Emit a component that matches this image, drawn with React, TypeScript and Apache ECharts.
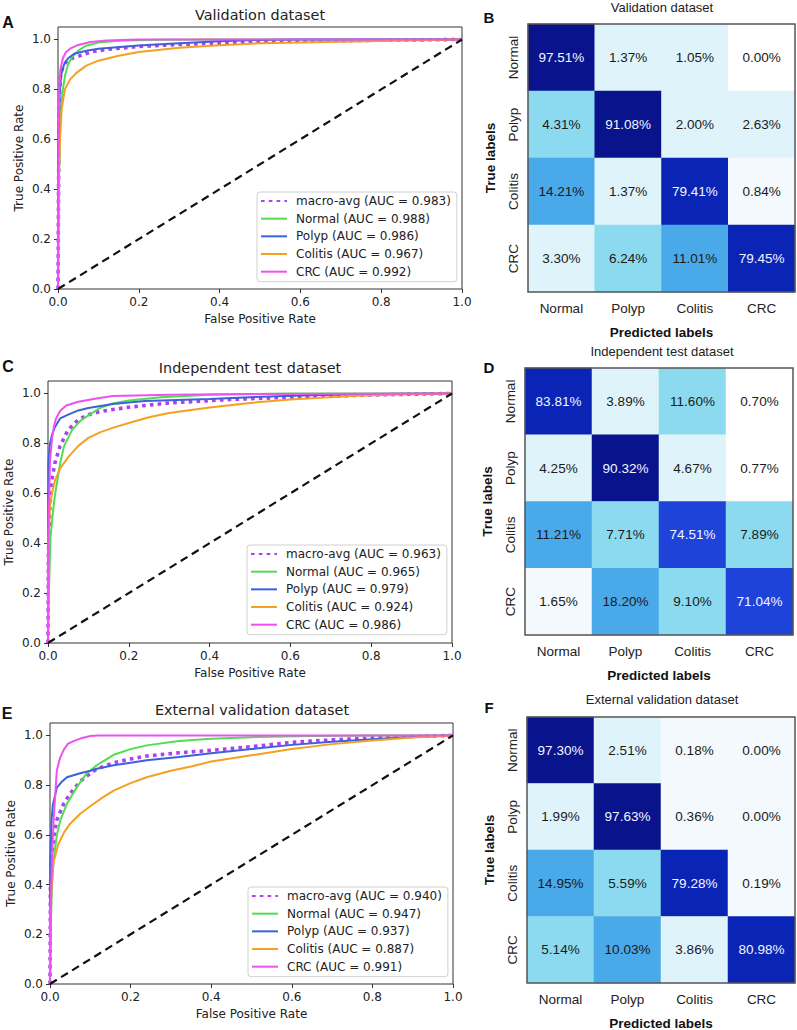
import React, { useEffect, useRef } from 'react';
import * as echarts from 'echarts';

// ---------- ROC data ----------
const rocCategories = ['macro-avg', 'Normal', 'Polyp', 'Colitis', 'CRC'];
const aucValidation = [0.983, 0.988, 0.986, 0.967, 0.992];
const aucTest = [0.963, 0.965, 0.979, 0.924, 0.986];
const aucExternal = [0.94, 0.947, 0.937, 0.887, 0.991];
const diagonal = [[0, 0], [1, 1]];

const valMacro = [[0, 0], [0.001, 0.3], [0.003, 0.75], [0.006, 0.85], [0.012, 0.89], [0.02, 0.91], [0.035, 0.925], [0.05, 0.932], [0.08, 0.95], [0.12, 0.96], [0.2, 0.972], [0.3, 0.98], [0.45, 0.988], [0.6, 0.993], [0.8, 0.997], [1, 1]];
const valNormal = [[0, 0], [0.002, 0.4], [0.006, 0.7], [0.012, 0.8], [0.018, 0.86], [0.025, 0.9], [0.035, 0.93], [0.05, 0.955], [0.07, 0.975], [0.1, 0.988], [0.15, 0.995], [0.25, 0.999], [0.4, 1], [1, 1]];
const valPolyp = [[0, 0], [0.001, 0.55], [0.004, 0.78], [0.008, 0.86], [0.015, 0.9], [0.025, 0.925], [0.04, 0.943], [0.07, 0.955], [0.1, 0.963], [0.2, 0.976], [0.3, 0.985], [0.4, 0.993], [0.5, 0.998], [0.6, 1], [1, 1]];
const valColitis = [[0, 0], [0.002, 0.45], [0.005, 0.6], [0.009, 0.72], [0.017, 0.8], [0.03, 0.84], [0.045, 0.865], [0.07, 0.895], [0.1, 0.915], [0.15, 0.935], [0.2, 0.95], [0.3, 0.967], [0.4, 0.977], [0.5, 0.985], [0.6, 0.988], [0.8, 0.994], [1, 1]];
const valCRC = [[0, 0], [0.001, 0.5], [0.003, 0.8], [0.006, 0.88], [0.012, 0.925], [0.02, 0.95], [0.03, 0.963], [0.05, 0.978], [0.08, 0.99], [0.12, 0.996], [0.2, 1], [1, 1]];

const testMacro = [[0, 0], [0.001, 0.35], [0.004, 0.52], [0.008, 0.64], [0.017, 0.72], [0.03, 0.79], [0.05, 0.855], [0.075, 0.895], [0.1, 0.915], [0.13, 0.928], [0.2, 0.945], [0.3, 0.962], [0.45, 0.976], [0.6, 0.985], [0.8, 0.994], [1, 1]];
const testNormal = [[0, 0], [0.002, 0.2], [0.006, 0.42], [0.012, 0.52], [0.017, 0.59], [0.03, 0.72], [0.04, 0.79], [0.06, 0.855], [0.08, 0.89], [0.1, 0.912], [0.13, 0.943], [0.16, 0.96], [0.2, 0.972], [0.28, 0.985], [0.4, 0.995], [0.6, 1], [1, 1]];
const testPolyp = [[0, 0], [0.001, 0.72], [0.005, 0.8], [0.01, 0.835], [0.017, 0.865], [0.03, 0.9], [0.05, 0.915], [0.075, 0.932], [0.1, 0.942], [0.16, 0.958], [0.24, 0.97], [0.4, 0.978], [0.5, 0.985], [0.65, 0.993], [0.8, 0.998], [1, 1]];
const testColitis = [[0, 0], [0.001, 0.4], [0.005, 0.55], [0.01, 0.6], [0.017, 0.65], [0.03, 0.7], [0.05, 0.745], [0.075, 0.79], [0.1, 0.822], [0.13, 0.845], [0.16, 0.862], [0.2, 0.882], [0.25, 0.905], [0.3, 0.922], [0.4, 0.944], [0.5, 0.962], [0.6, 0.976], [0.75, 0.99], [0.9, 0.997], [1, 1]];
const testCRC = [[0, 0], [0.001, 0.45], [0.005, 0.73], [0.01, 0.82], [0.015, 0.87], [0.02, 0.9], [0.03, 0.93], [0.045, 0.952], [0.075, 0.967], [0.12, 0.98], [0.16, 0.99], [0.3, 0.995], [0.5, 0.998], [1, 1]];

const extMacro = [[0, 0], [0.001, 0.38], [0.003, 0.47], [0.009, 0.59], [0.017, 0.66], [0.034, 0.725], [0.05, 0.766], [0.075, 0.815], [0.1, 0.848], [0.116, 0.865], [0.158, 0.89], [0.2, 0.905], [0.24, 0.917], [0.32, 0.93], [0.4, 0.94], [0.5, 0.955], [0.6, 0.972], [0.7, 0.982], [0.8, 0.99], [0.9, 0.996], [1, 1]];
const extNormal = [[0, 0], [0.002, 0.25], [0.005, 0.4], [0.009, 0.5], [0.017, 0.6], [0.026, 0.66], [0.042, 0.725], [0.067, 0.793], [0.09, 0.845], [0.116, 0.88], [0.158, 0.922], [0.2, 0.945], [0.24, 0.96], [0.32, 0.978], [0.4, 0.987], [0.5, 0.993], [0.65, 0.998], [0.8, 1], [1, 1]];
const extPolyp = [[0, 0], [0.001, 0.5], [0.004, 0.66], [0.007, 0.72], [0.017, 0.79], [0.03, 0.815], [0.042, 0.832], [0.075, 0.848], [0.1, 0.858], [0.116, 0.866], [0.158, 0.88], [0.2, 0.89], [0.24, 0.9], [0.32, 0.913], [0.4, 0.928], [0.5, 0.945], [0.6, 0.962], [0.7, 0.975], [0.8, 0.985], [0.9, 0.994], [1, 1]];
const extColitis = [[0, 0], [0.001, 0.3], [0.004, 0.4], [0.009, 0.49], [0.02, 0.56], [0.035, 0.61], [0.05, 0.645], [0.075, 0.685], [0.1, 0.715], [0.13, 0.75], [0.158, 0.778], [0.2, 0.808], [0.24, 0.832], [0.3, 0.858], [0.35, 0.875], [0.4, 0.895], [0.5, 0.92], [0.6, 0.945], [0.7, 0.965], [0.8, 0.98], [0.9, 0.992], [1, 1]];
const extCRC = [[0, 0], [0.002, 0.3], [0.005, 0.5], [0.009, 0.66], [0.017, 0.86], [0.025, 0.91], [0.035, 0.945], [0.045, 0.967], [0.06, 0.978], [0.08, 0.99], [0.1, 0.998], [0.12, 1], [1, 1]];

const rocTicks = [0, 0.2, 0.4, 0.6, 0.8, 1.0];

// ---------- Confusion matrices ----------
const cmLabels = ['Normal', 'Polyp', 'Colitis', 'CRC'];
const cmValidation = [
  [97.51, 1.37, 1.05, 0.0],
  [4.31, 91.08, 2.0, 2.63],
  [14.21, 1.37, 79.41, 0.84],
  [3.3, 6.24, 11.01, 79.45],
];
const cmTest = [
  [83.81, 3.89, 11.6, 0.7],
  [4.25, 90.32, 4.67, 0.77],
  [11.21, 7.71, 74.51, 7.89],
  [1.65, 18.2, 9.1, 71.04],
];
const cmExternal = [
  [97.3, 2.51, 0.18, 0.0],
  [1.99, 97.63, 0.36, 0.0],
  [14.95, 5.59, 79.28, 0.19],
  [5.14, 10.03, 3.86, 80.98],
];
// observed shade level of each cell (0 = white ... 7 = navy)
const shadeValidation = [
  [7, 2, 2, 0],
  [3, 7, 2, 2],
  [4, 2, 6, 1],
  [2, 3, 4, 6],
];
const shadeTest = [
  [6, 2, 3, 0],
  [2, 7, 2, 0],
  [4, 3, 5, 3],
  [1, 4, 3, 5],
];
const shadeExternal = [
  [7, 2, 1, 1],
  [2, 7, 1, 1],
  [4, 3, 6, 1],
  [3, 4, 2, 6],
];

// ---------- styling ----------
const curveColors = ['#b03ef2', '#52dc52', '#3a62dc', '#f4a020', '#f050ef'];
const shadeColors = ['#ffffff', '#f3f9fd', '#dff3fb', '#8bdaef', '#4aa9e9', '#1d43d9', '#0a25b5', '#08138c'];
const ROC_FONT = 'DejaVu Sans';
const CM_FONT = 'Liberation Sans, Arial, sans-serif';

const rocPanels = [
  { letter: 'A', title: 'Validation dataset', curves: [valMacro, valNormal, valPolyp, valColitis, valCRC], auc: aucValidation,
    grid: { left: 58, top: 27, width: 404, height: 262 }, legend: { left: 257, top: 192 }, titlePos: [260, 15], letterPos: [8, 22] },
  { letter: 'C', title: 'Independent test dataset', curves: [testMacro, testNormal, testPolyp, testColitis, testCRC], auc: aucTest,
    grid: { left: 48, top: 381, width: 404, height: 262 }, legend: { left: 247, top: 545 }, titlePos: [250, 368], letterPos: [8, 366] },
  { letter: 'E', title: 'External validation dataset', curves: [extMacro, extNormal, extPolyp, extColitis, extCRC], auc: aucExternal,
    grid: { left: 50, top: 723, width: 403, height: 261 }, legend: { left: 248, top: 887 }, titlePos: [252, 710], letterPos: [7, 713] },
];

const cmPanels = [
  { letter: 'B', title: 'Validation dataset', values: cmValidation, shades: shadeValidation,
    grid: { left: 528, top: 24, width: 267, height: 268 }, titlePos: [662, 7], letterPos: [489, 17] },
  { letter: 'D', title: 'Independent test dataset', values: cmTest, shades: shadeTest,
    grid: { left: 525, top: 368, width: 268, height: 267 }, titlePos: [662, 351], letterPos: [489, 367] },
  { letter: 'F', title: 'External validation dataset', values: cmExternal, shades: shadeExternal,
    grid: { left: 527, top: 717, width: 268, height: 266 }, titlePos: [662, 699], letterPos: [489, 707] },
];

function buildOption() {
  const grid: any[] = [];
  const xAxis: any[] = [];
  const yAxis: any[] = [];
  const series: any[] = [];
  const legend: any[] = [];
  const visualMap: any[] = [];
  const graphic: any[] = [];

  rocPanels.forEach((p, i) => {
    grid.push({ ...p.grid, show: true, borderColor: '#333', borderWidth: 1, backgroundColor: '#fff', outerBoundsMode: 'none', containLabel: false });
    const tickCommon = {
      axisLine: { show: false },
      axisTick: { show: true, length: 4, lineStyle: { color: '#333', width: 1 } },
      splitLine: { show: false },
      axisLabel: { fontFamily: ROC_FONT, fontSize: 12, color: '#222', margin: 7, formatter: (v: number) => v.toFixed(1) },
      nameLocation: 'middle',
      nameMoveOverlap: false,
      nameTextStyle: { fontFamily: ROC_FONT, fontSize: 12, color: '#222' },
    };
    xAxis.push({ ...tickCommon, type: 'value', gridIndex: i, min: 0, max: 1, interval: 0.2, name: 'False Positive Rate', nameGap: 24 });
    yAxis.push({ ...tickCommon, type: 'value', gridIndex: i, min: 0, max: 1.05, interval: 0.2, name: 'True Positive Rate', nameGap: 33,
      axisLabel: { ...tickCommon.axisLabel, showMaxLabel: false, formatter: (v: number) => (rocTicks.some(t => Math.abs(t - v) < 1e-6) ? v.toFixed(1) : '') } });
    const names: string[] = [];
    p.curves.forEach((data, k) => {
      const name = `${rocCategories[k]} (AUC = ${p.auc[k].toFixed(3)})`;
      names.push(name);
      series.push({
        type: 'line', name, xAxisIndex: i, yAxisIndex: i, data, symbol: 'none', showSymbol: false, smooth: false,
        lineStyle: k === 0
          ? { color: curveColors[k], width: 3.6, type: [3.6, 4.2], cap: 'butt' }
          : { color: curveColors[k], width: 2 },
        itemStyle: { color: curveColors[k] },
        z: k === 0 ? 2 : 3,
        emphasis: { disabled: true },
      });
    });
    series.push({
      type: 'line', name: 'chance-' + i, xAxisIndex: i, yAxisIndex: i, data: diagonal, symbol: 'none',
      lineStyle: { color: '#111', width: 2.2, type: [8, 5] }, z: 4, emphasis: { disabled: true },
    });
    legend.push({
      data: names, orient: 'vertical', left: p.legend.left, top: p.legend.top,
      itemWidth: 26, itemHeight: 14, itemGap: 3.67, padding: [2, 6, 3, 3],
      itemStyle: { opacity: 0 },
      backgroundColor: 'rgba(255,255,255,0.85)', borderColor: '#d0d0d0', borderWidth: 1, borderRadius: 3,
      textStyle: { fontFamily: ROC_FONT, fontSize: 12, color: '#222', lineHeight: 14, padding: [0, 0, 0, 4] },
      selectedMode: false, z: 10,
    });
    graphic.push({ type: 'text', x: p.titlePos[0], y: p.titlePos[1], style: { text: p.title, font: `14.4px ${ROC_FONT}`, fill: '#222', textAlign: 'center', textVerticalAlign: 'middle' } });
    graphic.push({ type: 'text', x: p.letterPos[0], y: p.letterPos[1], style: { text: p.letter, font: `bold 16px ${CM_FONT}`, fill: '#111', textAlign: 'center', textVerticalAlign: 'middle' } });
  });

  cmPanels.forEach((p, j) => {
    const gi = rocPanels.length + j;
    grid.push({ ...p.grid, show: true, borderColor: '#555', borderWidth: 1.5, backgroundColor: 'transparent', z: 5, outerBoundsMode: 'none', containLabel: false });
    xAxis.push({
      type: 'category', gridIndex: gi, data: cmLabels, position: 'bottom',
      axisLine: { show: false }, axisTick: { show: false }, splitLine: { show: false },
      axisLabel: { fontFamily: CM_FONT, fontSize: 13.5, color: '#222', margin: 9 },
      name: 'Predicted labels', nameLocation: 'middle', nameGap: 33, nameMoveOverlap: false,
      nameTextStyle: { fontFamily: CM_FONT, fontSize: 13.5, fontWeight: 'bold', color: '#111' },
    });
    yAxis.push({
      type: 'category', gridIndex: gi, data: cmLabels, inverse: true,
      axisLine: { show: false }, axisTick: { show: false }, splitLine: { show: false },
      axisLabel: { fontFamily: CM_FONT, fontSize: 13.5, color: '#222', margin: 8, rotate: 90 },
      name: 'True labels', nameLocation: 'middle', nameGap: 31, nameMoveOverlap: false,
      nameTextStyle: { fontFamily: CM_FONT, fontSize: 13.5, fontWeight: 'bold', color: '#111' },
    });
    const data: any[] = [];
    p.values.forEach((row, r) => row.forEach((v, c) => data.push([c, r, v, p.shades[r][c]])));
    const seriesIndex = series.length;
    series.push({
      type: 'heatmap', xAxisIndex: gi, yAxisIndex: gi, data,
      label: {
        show: true,
        formatter: (pp: any) => (pp.data[3] >= 5 ? `{w|${pp.data[2].toFixed(2)}%}` : `{d|${pp.data[2].toFixed(2)}%}`),
        rich: {
          w: { color: '#f4f6ff', fontFamily: CM_FONT, fontSize: 13.5 },
          d: { color: '#1a1a1a', fontFamily: CM_FONT, fontSize: 13.5 },
        },
      },
      emphasis: { disabled: true },
    });
    visualMap.push({
      type: 'piecewise', show: false, seriesIndex, dimension: 3,
      pieces: shadeColors.map((color, idx) => ({ value: idx, color })),
    });
    graphic.push({ type: 'text', x: p.titlePos[0], y: p.titlePos[1], style: { text: p.title, font: `13px ${CM_FONT}`, fill: '#222', textAlign: 'center', textVerticalAlign: 'middle' } });
    graphic.push({ type: 'text', x: p.letterPos[0], y: p.letterPos[1], style: { text: p.letter, font: `bold 15px ${CM_FONT}`, fill: '#111', textAlign: 'center', textVerticalAlign: 'middle' } });
  });

  return { animation: false, backgroundColor: '#fff', grid, xAxis, yAxis, series, legend, visualMap, graphic };
}

export default function App() {
  const ref = useRef<HTMLDivElement>(null);
  useEffect(() => {
    document.body.style.margin = '0';
    const chart = echarts.init(ref.current!, null, { renderer: 'svg' });
    chart.setOption(buildOption() as any);
    return () => chart.dispose();
  }, []);
  return <div ref={ref} style={{ width: 797, height: 1030 }} />;
}
